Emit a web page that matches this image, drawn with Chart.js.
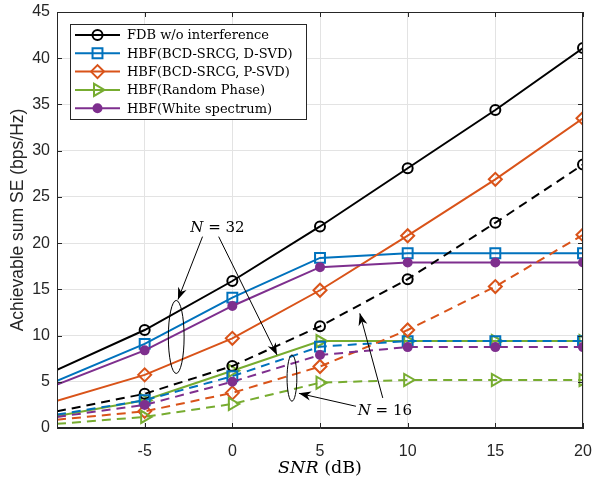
<!DOCTYPE html>
<html lang="en">
<head>
<meta charset="UTF-8" />
<title>Achievable sum SE vs SNR</title>
<script src="https://cdn.jsdelivr.net/npm/chart.js"></script>
<style>
  html, body { margin: 0; padding: 0; background: #fff; }
  #wrap { width: 592px; height: 481px; }
</style>
</head>
<body>
<div id="wrap"><canvas id="grafico" width="592" height="481"></canvas></div>
<script>
  // SNR points (dB); the -10 point only carries the line to the axis
  const snr = [-10, -5, 0, 5, 10, 15, 20];

  // N = 32 (solid)
  const fdb32   = [6.3, 10.6, 15.9, 21.8, 28.1, 34.4, 41.1];
  const dsvd32  = [5.1, 9.1, 14.1, 18.4, 18.9, 18.9, 18.9];
  const psvd32  = [2.95, 5.75, 9.7, 14.9, 20.8, 26.9, 33.5];
  const rand32  = [1.3, 3.0, 6.2, 9.4, 9.4, 9.4, 9.4];
  const white32 = [4.7, 8.4, 13.2, 17.4, 17.9, 17.9, 17.9];

  // N = 16 (dashed)
  const fdb16   = [1.8, 3.7, 6.7, 11.0, 16.1, 22.2, 28.5];
  const dsvd16  = [1.45, 3.0, 5.6, 8.8, 9.4, 9.4, 9.4];
  const psvd16  = [0.9, 1.8, 3.8, 6.65, 10.6, 15.3, 20.9];
  const rand16  = [0.45, 1.2, 2.6, 4.9, 5.2, 5.2, 5.2];
  const white16 = [1.2, 2.5, 5.0, 7.9, 8.75, 8.75, 8.75];

  const nomes = ['FDB w/o interference', 'HBF(BCD-SRCG, D-SVD)', 'HBF(BCD-SRCG, P-SVD)',
                 'HBF(Random Phase)', 'HBF(White spectrum)'];
  const cores = ['#000000', '#0072BD', '#D95319', '#77AC30', '#7E2F8E'];

  // annotations in data units: [x, y]
  const notaN32 = { txt: '32', at: [-0.85, 21.6] };
  const notaN16 = { txt: '16', at: [8.7, 1.8] };
  const elipses = [ { c: [-3.2, 9.85], rx: 0.45, ry: 3.95 }, { c: [3.4, 5.4], rx: 0.28, ry: 2.5 } ];
  const setas = [
    [[-1.7, 20.7], [-3.1, 13.9]],
    [[-0.78, 20.7], [2.55, 7.9]],
    [[7.05, 2.35], [3.8, 3.75]],
    [[8.58, 3.25], [7.27, 12.4]]
  ];

  const marcadores = [
    { pointStyle: 'circle', radius: 5, rotation: 0, fill: 'rgba(0,0,0,0)' },
    { pointStyle: 'rect', radius: 7, rotation: 0, fill: 'rgba(0,0,0,0)' },
    { pointStyle: 'rectRot', radius: 6.5, rotation: 0, fill: 'rgba(0,0,0,0)' },
    { pointStyle: 'triangle', radius: 7, rotation: 90, fill: 'rgba(0,0,0,0)' },
    { pointStyle: 'circle', radius: 4, rotation: 0, fill: '#7E2F8E' }
  ];

  function serie(valores, i, tracejado) {
    const m = marcadores[i];
    return {
      label: nomes[i] + (tracejado ? ' (N=16)' : ''),
      data: snr.map((x, k) => ({ x: x, y: valores[k] })),
      borderColor: cores[i],
      borderWidth: 2,
      borderDash: tracejado ? [9, 6] : [],
      fill: false,
      tension: 0,
      pointStyle: m.pointStyle,
      pointRotation: m.rotation,
      pointRadius: c => c.dataIndex === 0 ? 0 : m.radius,
      pointHoverRadius: c => c.dataIndex === 0 ? 0 : m.radius,
      pointBorderWidth: 2,
      pointBorderColor: cores[i],
      pointBackgroundColor: m.fill,
      _legenda: !tracejado
    };
  }

  const datasets = [
    serie(fdb32, 0, false), serie(dsvd32, 1, false), serie(psvd32, 2, false),
    serie(rand32, 3, false), serie(white32, 4, false),
    serie(fdb16, 0, true), serie(dsvd16, 1, true), serie(psvd16, 2, true),
    serie(rand16, 3, true), serie(white16, 4, true)
  ];
  // MATLAB draws later series on top
  datasets.forEach((d, i) => { d.order = datasets.length - i; });

  const corEixo = '#262626';
  const sans = '"Liberation Sans", Arial, sans-serif';
  const serif = '"DejaVu Serif", "Liberation Serif", serif';

  function desenhaSeta(ctx, x0, y0, x1, y1) {
    ctx.beginPath(); ctx.moveTo(x0, y0); ctx.lineTo(x1, y1); ctx.stroke();
    const a = Math.atan2(y1 - y0, x1 - x0), L = 12, W = 4.5;
    const bx = x1 - L * Math.cos(a), by = y1 - L * Math.sin(a);
    const nx = -Math.sin(a), ny = Math.cos(a);
    const mx = x1 - 0.7 * L * Math.cos(a), my = y1 - 0.7 * L * Math.sin(a);
    ctx.beginPath();
    ctx.moveTo(x1, y1);
    ctx.lineTo(bx + nx * W, by + ny * W);
    ctx.lineTo(mx, my);
    ctx.lineTo(bx - nx * W, by - ny * W);
    ctx.closePath(); ctx.fill();
  }

  // italic first part, upright rest, centred on cx
  function textoMisto(ctx, ital, resto, cx, cy, px) {
    ctx.font = 'italic ' + px + 'px ' + serif;
    const w1 = ctx.measureText(ital).width;
    ctx.font = px + 'px ' + serif;
    const w2 = ctx.measureText(resto).width;
    const x0 = cx - (w1 + w2) / 2;
    ctx.textAlign = 'left'; ctx.textBaseline = 'middle';
    ctx.font = 'italic ' + px + 'px ' + serif;
    ctx.fillText(ital, x0, cy);
    ctx.font = px + 'px ' + serif;
    ctx.fillText(resto, x0 + w1, cy);
  }

  const extras = {
    id: 'extras',
    afterDatasetsDraw(chart) {
      const ctx = chart.ctx, a = chart.chartArea;
      const sx = chart.scales.x, sy = chart.scales.y;
      ctx.save();
      // box + inward ticks
      ctx.strokeStyle = corEixo; ctx.lineWidth = 1;
      ctx.strokeRect(Math.round(a.left) + 0.5, Math.round(a.top) + 0.5,
                     Math.round(a.right - a.left) - 1, Math.round(a.bottom - a.top) - 1);
      ctx.beginPath();
      sx.ticks.forEach(t => {
        const px = Math.round(sx.getPixelForValue(t.value)) + 0.5;
        ctx.moveTo(px, a.bottom); ctx.lineTo(px, a.bottom - 5);
        ctx.moveTo(px, a.top); ctx.lineTo(px, a.top + 5);
      });
      sy.ticks.forEach(t => {
        const py = Math.round(sy.getPixelForValue(t.value)) + 0.5;
        ctx.moveTo(a.left, py); ctx.lineTo(a.left + 5, py);
        ctx.moveTo(a.right, py); ctx.lineTo(a.right - 5, py);
      });
      ctx.stroke();

      // annotations
      ctx.strokeStyle = '#000'; ctx.fillStyle = '#000'; ctx.lineWidth = 1;
      elipses.forEach(e => {
        const cx = sx.getPixelForValue(e.c[0]), cy = sy.getPixelForValue(e.c[1]);
        const rx = Math.abs(sx.getPixelForValue(e.c[0] + e.rx) - cx);
        const ry = Math.abs(sy.getPixelForValue(e.c[1] + e.ry) - cy);
        ctx.beginPath(); ctx.ellipse(cx, cy, rx, ry, 0, 0, Math.PI * 2); ctx.stroke();
      });
      setas.forEach(s => {
        desenhaSeta(ctx, sx.getPixelForValue(s[0][0]), sy.getPixelForValue(s[0][1]),
                         sx.getPixelForValue(s[1][0]), sy.getPixelForValue(s[1][1]));
      });
      [notaN32, notaN16].forEach(n => {
        textoMisto(ctx, 'N', ' = ' + n.txt, sx.getPixelForValue(n.at[0]), sy.getPixelForValue(n.at[1]), 15);
      });

      // legend box (solid series only)
      const lx = 70, ly = 24, lw = 236, lh = 95;
      ctx.fillStyle = '#fff'; ctx.fillRect(lx, ly, lw, lh);
      ctx.strokeStyle = corEixo; ctx.lineWidth = 1;
      ctx.strokeRect(lx + 0.5, ly + 0.5, lw, lh);
      ctx.textAlign = 'left'; ctx.textBaseline = 'middle';
      chart.data.datasets.filter(d => d._legenda).forEach((d, i) => {
        const y = ly + 11 + i * 18.3;
        ctx.strokeStyle = d.borderColor; ctx.lineWidth = 2; ctx.setLineDash([]);
        ctx.beginPath(); ctx.moveTo(lx + 5, y); ctx.lineTo(lx + 50, y); ctx.stroke();
        const m = marcadores[i];
        ctx.fillStyle = m.fill; ctx.strokeStyle = d.borderColor;
        Chart.helpers.drawPoint(ctx, { pointStyle: m.pointStyle, radius: m.radius,
          rotation: m.rotation, borderWidth: 2 }, lx + 27.5, y);
        ctx.fillStyle = '#000';
        ctx.font = '13px ' + serif;
        ctx.fillText(nomes[i], lx + 57, y + 1);
      });

      // x axis title: SNR (dB)
      ctx.fillStyle = '#000';
      textoMisto(ctx, 'SNR', ' (dB)', (a.left + a.right) / 2, 468, 17.5);
      ctx.restore();
    }
  };

  new Chart(document.getElementById('grafico').getContext('2d'), {
    type: 'line',
    data: { datasets: datasets },
    options: {
      responsive: false,
      animation: false,
      devicePixelRatio: 1,
      layout: { padding: { top: 12, right: 8, left: 0, bottom: 0 } },
      plugins: { legend: { display: false }, tooltip: { enabled: false } },
      scales: {
        x: {
          type: 'linear', min: -10, max: 20,
          ticks: { stepSize: 5, color: corEixo, font: { family: sans, size: 16 },
                   padding: 14, callback: v => v === -10 ? '' : v, maxRotation: 0 },
          grid: { color: '#e3e3e3', drawTicks: false },
          border: { color: corEixo },
          afterFit: s => { s.height = 53; s.paddingLeft = 0; s.paddingRight = 0; }
        },
        y: {
          min: 0, max: 45,
          ticks: { stepSize: 5, color: corEixo, font: { family: sans, size: 16 },
                   padding: 7 },
          grid: { color: '#e3e3e3', drawTicks: false },
          border: { color: corEixo },
          title: { display: true, text: 'Achievable sum SE (bps/Hz)', color: corEixo,
                   font: { family: sans, size: 17.5 }, padding: { top: 8, bottom: 0 } },
          afterFit: s => { s.width = 57; s.paddingTop = 0; s.paddingBottom = 0; }
        }
      }
    },
    plugins: [extras]
  });
</script>
</body>
</html>
